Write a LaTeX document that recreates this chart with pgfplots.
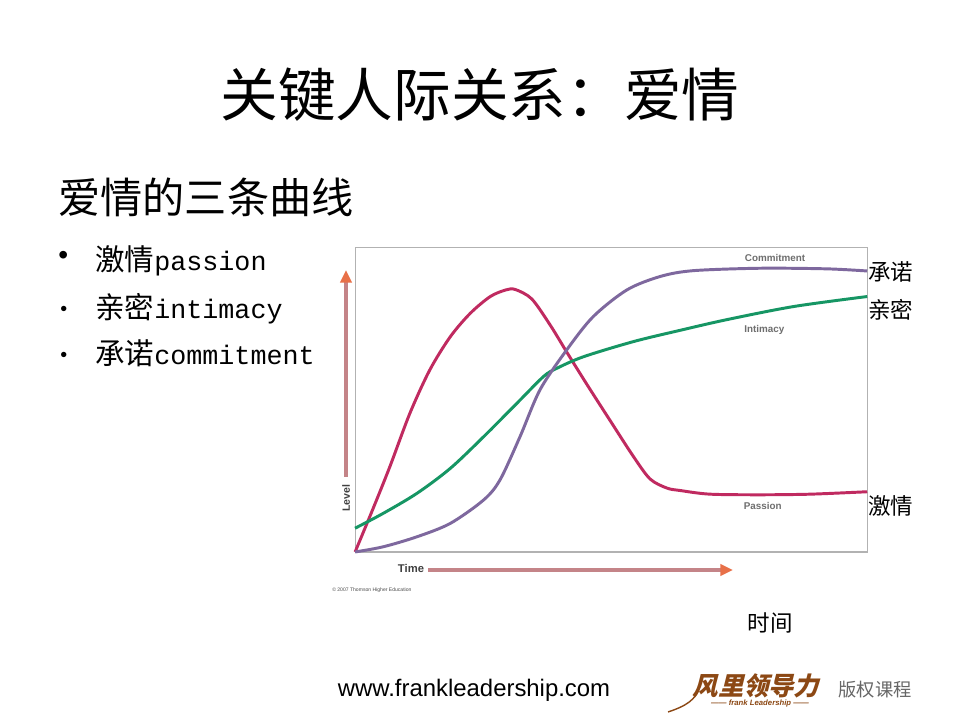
\documentclass[border=0pt]{standalone}
\usepackage{pgfplots}
\pgfplotsset{compat=1.18}
\usepackage{fontspec}
\usetikzlibrary{arrows.meta}
\setmainfont{Liberation Sans}
\setmonofont{Liberation Mono}
\newfontfamily\cjk{Noto Sans CJK SC}
\newfontfamily\cjklogo[FakeSlant=0.25]{Noto Sans CJK SC}

\definecolor{passion}{RGB}{192,42,96}
\definecolor{intimacy}{RGB}{22,150,100}
\definecolor{commit}{RGB}{126,104,158}
\definecolor{shaft}{RGB}{196,132,136}
\definecolor{tip}{RGB}{232,112,72}
\definecolor{labgray}{RGB}{110,110,110}
\definecolor{logo}{RGB}{140,72,20}

\begin{document}
\begin{tikzpicture}[x=0.025cm,y=0.025cm]
\fill[white] (0,0) rectangle (960,720);

% slide text
\node at (480,625) {\fontsize{41}{45}\selectfont\cjk 关键人际关系：爱情};
\node[anchor=west,inner sep=0] at (58,523) {\fontsize{30}{34}\selectfont\cjk 爱情的三条曲线};
\node[anchor=west,inner sep=0] at (58,462) {\fontsize{20}{24}\selectfont •};
\node[anchor=west,inner sep=0] at (60,409) {\fontsize{14}{18}\selectfont •};
\node[anchor=west,inner sep=0] at (60,363) {\fontsize{14}{18}\selectfont •};
\node[anchor=base west,inner sep=0] at (95,449) {\fontsize{21}{24}\selectfont{\cjk 激情}\ttfamily\fontsize{19}{24}\selectfont passion};
\node[anchor=base west,inner sep=0] at (95,401) {\fontsize{21}{24}\selectfont{\cjk 亲密}\ttfamily\fontsize{19}{24}\selectfont intimacy};
\node[anchor=base west,inner sep=0] at (95,355) {\fontsize{21}{24}\selectfont{\cjk 承诺}\ttfamily\fontsize{19}{24}\selectfont commitment};

% axis arrows
\draw[shaft,line width=2.2pt,-{Triangle[length=9pt,width=8pt,color=tip]}] (346,243) -- (346,450);
\draw[shaft,line width=2.2pt,-{Triangle[length=9pt,width=8pt,color=tip]}] (428,150) -- (733,150);
\node[rotate=90,font=\bfseries\fontsize{7.5}{8}\selectfont,text=black!75] at (346,222) {Level};
\node[font=\bfseries\fontsize{8}{9}\selectfont,text=black!75] at (411,152) {Time};
\node[anchor=west,inner sep=0,font=\fontsize{3.6}{4}\selectfont,text=black!70] at (332,130) {\textcopyright\ 2007 Thomson Higher Education};

\begin{axis}[
  at={(8.875cm,4.2cm)}, anchor=south west,
  scale only axis,
  width=12.8cm, height=7.6cm,
  xmin=0, xmax=100, ymin=0, ymax=100,
  ticks=none,
  axis line style={draw=gray!60, line width=0.8pt},
  every axis plot/.append style={line width=2.1pt, smooth},
  clip=false,
]
% Passion
\addplot[passion] coordinates {
  (0,0) (3.4,13.8) (6.8,28.1) (10.7,45.6) (14.6,59.9) (18.6,70.8)
  (22.5,78.5) (26.4,84.0) (29.5,86.2) (31.3,86.3) (34.5,83.2)
  (38.1,74.6) (41.3,65.8) (45.3,55.0) (49.8,43.2) (54.3,31.5)
  (57.6,24.0) (60.9,21.0) (63.5,20.2) (69.3,19.0) (79.1,18.8)
  (88.9,19.0) (100,19.8)
};
% Intimacy
\addplot[intimacy] coordinates {
  (0,7.8) (5.5,12.7) (12.1,19.3) (18.6,27.5) (25.1,37.9) (31.6,48.9)
  (36.8,57.7) (39.4,60.4) (44.6,64.2) (54.4,69.2) (63.5,72.9)
  (72.6,76.4) (85.6,80.7) (100,84.0)
};
% Commitment
\addplot[commit] coordinates {
  (0,0) (5.5,1.7) (12.1,5.0) (18.6,9.4) (25.1,17.1) (28.3,23.7)
  (32.2,37.9) (36.1,53.3) (41.3,66.4) (46.5,77.4) (53.1,86.2)
  (59.6,90.6) (66.0,92.5) (79.1,93.3) (92.1,93.1) (100,92.4)
};
\node[text=labgray,font=\bfseries\fontsize{7}{8}\selectfont] at (axis cs:82.0,96.6) {Commitment};
\node[text=labgray,font=\bfseries\fontsize{7}{8}\selectfont] at (axis cs:79.9,73.0) {Intimacy};
\node[text=labgray,font=\bfseries\fontsize{7}{8}\selectfont] at (axis cs:79.6,15.2) {Passion};
\end{axis}

% chinese labels
\node[anchor=west,inner sep=0] at (868,448) {\fontsize{16}{18}\selectfont\cjk 承诺};
\node[anchor=west,inner sep=0] at (868,410) {\fontsize{16}{18}\selectfont\cjk 亲密};
\node[anchor=west,inner sep=0] at (868,214) {\fontsize{16}{18}\selectfont\cjk 激情};
\node at (770,97) {\fontsize{16}{18}\selectfont\cjk 时间};

% footer
\node at (474,30) {\fontsize{17}{20}\selectfont www.frankleadership.com};
\node[text=logo] at (756,34) {\fontsize{18}{20}\selectfont\cjklogo\bfseries 风里领导力};
\node[text=logo] at (760,16) {\fontsize{5.5}{6}\selectfont\bfseries\itshape ------ frank Leadership ------};
\draw[logo,line width=1pt] (668,8) .. controls (686,14) and (696,20) .. (700,34);
\node[text=black!60] at (875,30) {\fontsize{13}{15}\selectfont\cjk 版权课程};
\end{tikzpicture}
\end{document}
